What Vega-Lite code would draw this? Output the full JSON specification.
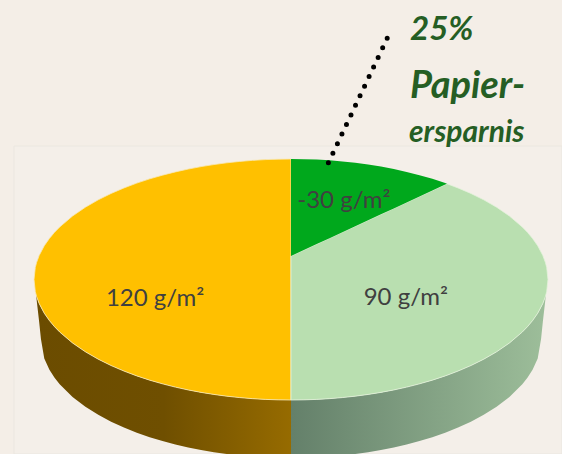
{"$schema":"https://vega.github.io/schema/vega-lite/v6.json","width":562,"height":454,"autosize":{"type":"fit","contains":"padding"},"padding":0,"background":"#f4eee7","view":{"stroke":null},
"datasets":{
"frame":[{"u":-1.0778,"u2":1.0545,"v":1.108,"v2":-1.4481}],
"wallLeft":[{"u":-0.992,"hi":-0.126,"lo":-0.126},{"u":-0.98,"hi":-0.199,"lo":-0.35},{"u":-0.973,"hi":-0.231,"lo":-0.4938},{"u":-0.96,"hi":-0.28,"lo":-0.6549},{"u":-0.94,"hi":-0.3412,"lo":-0.7488},{"u":-0.92,"hi":-0.3919,"lo":-0.8153},{"u":-0.9,"hi":-0.4359,"lo":-0.8691},{"u":-0.85,"hi":-0.5268,"lo":-0.9744},{"u":-0.8,"hi":-0.6,"lo":-1.0559},{"u":-0.75,"hi":-0.6614,"lo":-1.123},{"u":-0.7,"hi":-0.7141,"lo":-1.1798},{"u":-0.65,"hi":-0.7599,"lo":-1.2287},{"u":-0.6,"hi":-0.8,"lo":-1.2713},{"u":-0.55,"hi":-0.8352,"lo":-1.3085},{"u":-0.5,"hi":-0.866,"lo":-1.341},{"u":-0.45,"hi":-0.893,"lo":-1.3694},{"u":-0.4,"hi":-0.9165,"lo":-1.3941},{"u":-0.35,"hi":-0.9368,"lo":-1.4153},{"u":-0.3,"hi":-0.9539,"lo":-1.4333},{"u":-0.25,"hi":-0.9683,"lo":-1.4482},{"u":-0.2,"hi":-0.9798,"lo":-1.4603},{"u":-0.15,"hi":-0.9887,"lo":-1.4696},{"u":-0.1,"hi":-0.995,"lo":-1.4762},{"u":-0.05,"hi":-0.9988,"lo":-1.4801},{"u":0,"hi":-1,"lo":-1.4814}],
"wallRight":[{"u":0,"hi":-1,"lo":-1.4814},{"u":0.05,"hi":-0.9988,"lo":-1.4801},{"u":0.1,"hi":-0.995,"lo":-1.4762},{"u":0.15,"hi":-0.9887,"lo":-1.4696},{"u":0.2,"hi":-0.9798,"lo":-1.4603},{"u":0.25,"hi":-0.9683,"lo":-1.4482},{"u":0.3,"hi":-0.9539,"lo":-1.4333},{"u":0.35,"hi":-0.9368,"lo":-1.4153},{"u":0.4,"hi":-0.9165,"lo":-1.3941},{"u":0.45,"hi":-0.893,"lo":-1.3694},{"u":0.5,"hi":-0.866,"lo":-1.341},{"u":0.55,"hi":-0.8352,"lo":-1.3085},{"u":0.6,"hi":-0.8,"lo":-1.2713},{"u":0.65,"hi":-0.7599,"lo":-1.2287},{"u":0.7,"hi":-0.7141,"lo":-1.1798},{"u":0.75,"hi":-0.6614,"lo":-1.123},{"u":0.8,"hi":-0.6,"lo":-1.0559},{"u":0.85,"hi":-0.5268,"lo":-0.9744},{"u":0.9,"hi":-0.4359,"lo":-0.8691},{"u":0.92,"hi":-0.3919,"lo":-0.8153},{"u":0.94,"hi":-0.3412,"lo":-0.7488},{"u":0.96,"hi":-0.28,"lo":-0.6549},{"u":0.973,"hi":-0.231,"lo":-0.4938},{"u":0.98,"hi":-0.199,"lo":-0.35},{"u":0.992,"hi":-0.126,"lo":-0.126}],
"slice120":[{"u":-1,"hi":0,"lo":0},{"u":-0.995,"hi":0.0999,"lo":-0.0999},{"u":-0.99,"hi":0.1411,"lo":-0.1411},{"u":-0.98,"hi":0.199,"lo":-0.199},{"u":-0.96,"hi":0.28,"lo":-0.28},{"u":-0.94,"hi":0.3412,"lo":-0.3412},{"u":-0.92,"hi":0.3919,"lo":-0.3919},{"u":-0.9,"hi":0.4359,"lo":-0.4359},{"u":-0.85,"hi":0.5268,"lo":-0.5268},{"u":-0.8,"hi":0.6,"lo":-0.6},{"u":-0.75,"hi":0.6614,"lo":-0.6614},{"u":-0.7,"hi":0.7141,"lo":-0.7141},{"u":-0.65,"hi":0.7599,"lo":-0.7599},{"u":-0.6,"hi":0.8,"lo":-0.8},{"u":-0.55,"hi":0.8352,"lo":-0.8352},{"u":-0.5,"hi":0.866,"lo":-0.866},{"u":-0.45,"hi":0.893,"lo":-0.893},{"u":-0.4,"hi":0.9165,"lo":-0.9165},{"u":-0.35,"hi":0.9368,"lo":-0.9368},{"u":-0.3,"hi":0.9539,"lo":-0.9539},{"u":-0.25,"hi":0.9683,"lo":-0.9683},{"u":-0.2,"hi":0.9798,"lo":-0.9798},{"u":-0.15,"hi":0.9887,"lo":-0.9887},{"u":-0.1,"hi":0.995,"lo":-0.995},{"u":-0.05,"hi":0.9988,"lo":-0.9988},{"u":0,"hi":1,"lo":-1}],
"slice90":[{"u":0,"hi":0.195,"lo":-1},{"u":0.05,"hi":0.2444,"lo":-0.9988},{"u":0.1,"hi":0.2938,"lo":-0.995},{"u":0.15,"hi":0.3432,"lo":-0.9887},{"u":0.2,"hi":0.3926,"lo":-0.9798},{"u":0.25,"hi":0.442,"lo":-0.9683},{"u":0.3,"hi":0.4914,"lo":-0.9539},{"u":0.35,"hi":0.5408,"lo":-0.9368},{"u":0.4,"hi":0.5902,"lo":-0.9165},{"u":0.45,"hi":0.6396,"lo":-0.893},{"u":0.5,"hi":0.689,"lo":-0.866},{"u":0.55,"hi":0.7384,"lo":-0.8352},{"u":0.6,"hi":0.7878,"lo":-0.8},{"u":0.607,"hi":0.7947,"lo":-0.7947},{"u":0.65,"hi":0.7599,"lo":-0.7599},{"u":0.7,"hi":0.7141,"lo":-0.7141},{"u":0.75,"hi":0.6614,"lo":-0.6614},{"u":0.8,"hi":0.6,"lo":-0.6},{"u":0.85,"hi":0.5268,"lo":-0.5268},{"u":0.9,"hi":0.4359,"lo":-0.4359},{"u":0.92,"hi":0.3919,"lo":-0.3919},{"u":0.94,"hi":0.3412,"lo":-0.3412},{"u":0.96,"hi":0.28,"lo":-0.28},{"u":0.98,"hi":0.199,"lo":-0.199},{"u":0.99,"hi":0.1411,"lo":-0.1411},{"u":0.995,"hi":0.0999,"lo":-0.0999},{"u":1,"hi":0,"lo":0}],
"sliceMinus30":[{"u":0,"hi":1,"lo":0.195},{"u":0.05,"hi":0.9988,"lo":0.2444},{"u":0.1,"hi":0.995,"lo":0.2938},{"u":0.15,"hi":0.9887,"lo":0.3432},{"u":0.2,"hi":0.9798,"lo":0.3926},{"u":0.25,"hi":0.9683,"lo":0.442},{"u":0.3,"hi":0.9539,"lo":0.4914},{"u":0.35,"hi":0.9368,"lo":0.5408},{"u":0.4,"hi":0.9165,"lo":0.5902},{"u":0.45,"hi":0.893,"lo":0.6396},{"u":0.5,"hi":0.866,"lo":0.689},{"u":0.55,"hi":0.8352,"lo":0.7384},{"u":0.6,"hi":0.8,"lo":0.7878},{"u":0.607,"hi":0.7947,"lo":0.7947}],
"pointer":[{"i":1,"u":0.3743,"v":2.002},{"i":2,"u":0.1323,"v":0.9087}],
"labels":[{"t":"120 g/m²","u":-0.529,"v":-0.162},{"t":"90 g/m²","u":0.447,"v":-0.154},{"t":"-30 g/m²","u":0.206,"v":0.651}],
"note":[{"t":"25%","u":0.463,"v":1.99,"s":33},{"t":"Papier-","u":0.463,"v":1.51,"s":38},{"t":"ersparnis","u":0.459,"v":1.14,"s":30}]
},
"encoding":{},
"layer":[
{"data":{"name":"frame"},"mark":{"type":"rect","clip":true,"fill":"#f4efe9","stroke":"#ebe7e0","strokeWidth":1},"encoding":{"x":{"field":"u","type":"quantitative","scale":{"domain":[-1.1323,1.0545],"nice":false,"zero":false},"axis":null},"x2":{"field":"u2"},"y":{"field":"v","type":"quantitative","scale":{"domain":[-1.4481,2.3195],"nice":false,"zero":false},"axis":null},"y2":{"field":"v2"}}},
{"data":{"name":"wallLeft"},"mark":{"type":"area","clip":true,"color":{"gradient":"linear","x1":0,"y1":0,"x2":1,"y2":0,"stops":[{"offset":0,"color":"#6b4c00"},{"offset":0.5,"color":"#6f4f00"},{"offset":1,"color":"#966b00"}]}},"encoding":{"x":{"field":"u","type":"quantitative"},"y":{"field":"hi","type":"quantitative"},"y2":{"field":"lo"}}},
{"data":{"name":"wallRight"},"mark":{"type":"area","clip":true,"color":{"gradient":"linear","x1":0,"y1":0,"x2":1,"y2":0,"stops":[{"offset":0,"color":"#64806a"},{"offset":1,"color":"#9dbe9a"}]}},"encoding":{"x":{"field":"u","type":"quantitative"},"y":{"field":"hi","type":"quantitative"},"y2":{"field":"lo"}}},
{"data":{"name":"slice120"},"mark":{"type":"area","color":"#ffc000","stroke":"#f8e9b8","strokeWidth":0.8},"encoding":{"x":{"field":"u","type":"quantitative"},"y":{"field":"hi","type":"quantitative"},"y2":{"field":"lo"}}},
{"data":{"name":"slice90"},"mark":{"type":"area","color":"#b9dfb0","stroke":"#e4f2dc","strokeWidth":0.8},"encoding":{"x":{"field":"u","type":"quantitative"},"y":{"field":"hi","type":"quantitative"},"y2":{"field":"lo"}}},
{"data":{"name":"sliceMinus30"},"mark":{"type":"area","color":"#00a81c"},"encoding":{"x":{"field":"u","type":"quantitative"},"y":{"field":"hi","type":"quantitative"},"y2":{"field":"lo"}}},
{"data":{"name":"pointer"},"mark":{"type":"line","color":"#000000","strokeWidth":5,"strokeCap":"round","strokeDash":[0,10.6]},"encoding":{"x":{"field":"u","type":"quantitative"},"y":{"field":"v","type":"quantitative"},"order":{"field":"i"}}},
{"data":{"name":"labels"},"mark":{"type":"text","font":"Lato","fontSize":24,"color":"#404040","align":"center","baseline":"middle"},"encoding":{"x":{"field":"u","type":"quantitative"},"y":{"field":"v","type":"quantitative"},"text":{"field":"t"}}},
{"data":{"name":"note"},"mark":{"type":"text","font":"Lato","fontStyle":"italic","fontWeight":"bold","color":"#255e24","align":"left","baseline":"alphabetic"},"encoding":{"x":{"field":"u","type":"quantitative"},"y":{"field":"v","type":"quantitative"},"text":{"field":"t"},"size":{"field":"s","type":"quantitative","scale":null}}}
]}
